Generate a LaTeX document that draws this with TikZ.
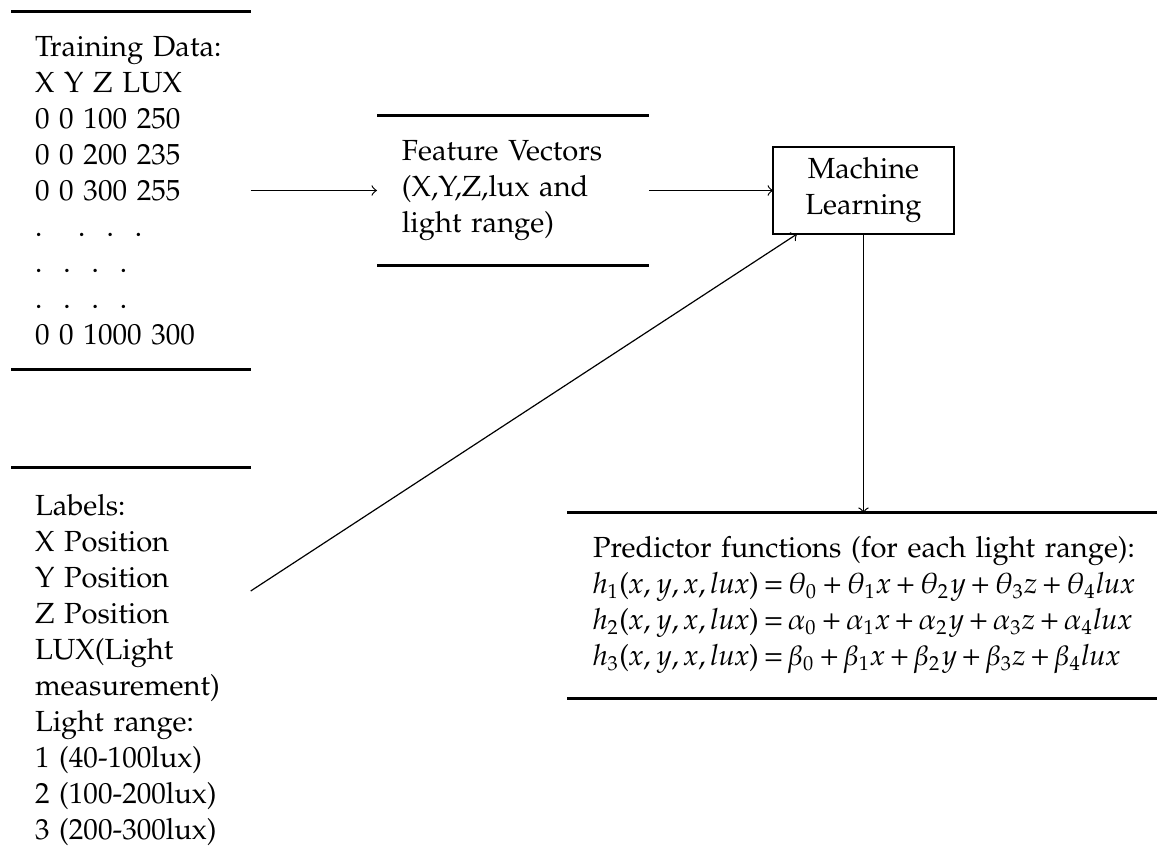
\documentclass[tikz,border=0pt]{standalone}
\usepackage[T1]{fontenc}
\usepackage{pxfonts}
\renewcommand\rmdefault{ppl}
\usetikzlibrary{calc}

% a dot followed by blank space, for the elided rows of the data table
\newcommand\dotcell[1]{\makebox[#1][l]{.}}

\tikzset{
  panel/.style={anchor=west, align=left, inner xsep=8pt, inner ysep=0pt, outer sep=0pt},
  rule/.style={line width=1pt},
  flow/.style={->, line width=0.4pt},
  mlbox/.style={draw, line width=0.4pt, align=center, minimum width=60.3pt,
                minimum height=29pt, inner sep=0pt, outer sep=0pt},
}

\begin{document}
\begin{tikzpicture}[x=0.33333pt, y=-0.33333pt, font=\fontsize{9.7pt}{12pt}\selectfont]
\useasboundingbox (0,0) rectangle (1157,865);

% training data table
\node[panel, text width=63.9pt, minimum height=119.2pt] (train) at (11,190.5)
  {\mbox{Training Data:}\\
   X Y Z LUX\\
   0 0 100 250\\
   0 0 200 235\\
   0 0 300 255\\
   \dotcell{14.4pt}\dotcell{9.44pt}\dotcell{9.44pt}.\\
   \dotcell{9.44pt}\dotcell{9.44pt}\dotcell{9.44pt}.\\
   \dotcell{9.44pt}\dotcell{9.44pt}\dotcell{9.44pt}.\\
   \mbox{0 0 1000 300}};

% feature vectors
\node[panel, text width=74pt, inner xsep=8.33pt, minimum height=49.7pt] (feat) at (377,190.5)
  {Feature Vectors\\
   \mbox{(X,Y,Z,lux and}\\
   light range)};

% learner
\node[mlbox] (ml) at (863.5,190.5) {Machine\\Learning};

% label description
\node[panel, text width=63.9pt, minimum height=135pt] (lab) at (11,670.5)
  {Labels:\\
   X Position\\
   Y Position\\
   Z Position\\
   LUX(Light\\
   \mbox{measurement)}\\
   Light range:\\
   \mbox{1 (40-100lux)}\\
   \mbox{2 (100-200lux)}\\
   \mbox{3 (200-300lux)}};

% resulting predictors
\node[panel, text width=195pt, inner xsep=8.67pt, minimum height=61.7pt,
      execute at begin node={\medmuskip=3mu\thickmuskip=3mu}] (pred) at (567,605.5)
  {\mbox{Predictor functions (for each light range):}\\
   \mbox{$h_1(x,y,x,lux)=\theta_0+\theta_1x+\theta_2y+\theta_3z+\theta_4lux$}\\
   \mbox{$h_2(x,y,x,lux)=\alpha_0+\alpha_1x+\alpha_2y+\alpha_3z+\alpha_4lux$}\\
   \mbox{$h_3(x,y,x,lux)=\beta_0+\beta_1x+\beta_2y+\beta_3z+\beta_4lux$}};

% top and bottom rules of each data store
\foreach \n in {train,feat,lab,pred}
  \draw[rule] (\n.north west) -- (\n.north east)
              (\n.south west) -- (\n.south east);

% data flow
\draw[flow] (train) -- (feat);
\draw[flow] (feat) -- (ml);
\coordinate (labout) at ($(lab.north east)+(0,123)$);
\coordinate (mlin) at ($(ml.south west)+(24,0)$);
\draw[flow] (labout) -- (mlin);
\draw[flow] (ml.south) -- (ml.south |- pred.north);
\end{tikzpicture}
\end{document}
